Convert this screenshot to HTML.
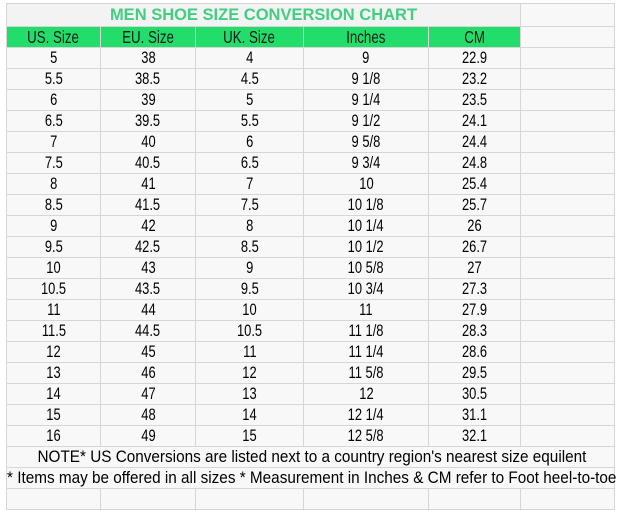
<!DOCTYPE html>
<html><head><style>
body{margin:0;width:619px;height:495px;background:#fff;overflow:hidden;font-family:"Liberation Sans",sans-serif;}
table{position:absolute;left:6px;top:3px;border-collapse:collapse;table-layout:fixed;width:608px;background:#f8f8f8;}
td{border:1px solid #d6d6d6;height:20px;padding:0;text-align:center;font-size:17px;color:#000;line-height:20px;white-space:nowrap;overflow:visible;}
td span{display:inline-block;transform:scaleX(0.76);transform-origin:center;}
tr.t td{height:22px;}
.title{color:#40cf80;font-weight:bold;font-size:16.5px;background:#f3f3f3;}
.title span{transform:none;}
tr.h td.g{background:#22dd6a;color:#1a1a1a;font-size:17.5px;}
.nt span{transform:scaleX(0.9);}
.l{text-align:left;}
.l span{transform-origin:left;transform:scaleX(0.9);}
</style></head><body>
<table>
<colgroup><col style="width:94px"><col style="width:95px"><col style="width:108px"><col style="width:125px"><col style="width:92px"><col style="width:94px"></colgroup>
<tr class="t"><td colspan="5" class="title"><span>MEN SHOE SIZE CONVERSION CHART</span></td><td></td></tr>
<tr class="h"><td class="g"><span>US. Size</span></td><td class="g"><span>EU. Size</span></td><td class="g"><span>UK. Size</span></td><td class="g"><span>Inches</span></td><td class="g"><span>CM</span></td><td></td></tr>
<tr><td><span>5</span></td><td><span>38</span></td><td><span>4</span></td><td><span>9</span></td><td><span>22.9</span></td><td></td></tr>
<tr><td><span>5.5</span></td><td><span>38.5</span></td><td><span>4.5</span></td><td><span>9 1/8</span></td><td><span>23.2</span></td><td></td></tr>
<tr><td><span>6</span></td><td><span>39</span></td><td><span>5</span></td><td><span>9 1/4</span></td><td><span>23.5</span></td><td></td></tr>
<tr><td><span>6.5</span></td><td><span>39.5</span></td><td><span>5.5</span></td><td><span>9 1/2</span></td><td><span>24.1</span></td><td></td></tr>
<tr><td><span>7</span></td><td><span>40</span></td><td><span>6</span></td><td><span>9 5/8</span></td><td><span>24.4</span></td><td></td></tr>
<tr><td><span>7.5</span></td><td><span>40.5</span></td><td><span>6.5</span></td><td><span>9 3/4</span></td><td><span>24.8</span></td><td></td></tr>
<tr><td><span>8</span></td><td><span>41</span></td><td><span>7</span></td><td><span>10</span></td><td><span>25.4</span></td><td></td></tr>
<tr><td><span>8.5</span></td><td><span>41.5</span></td><td><span>7.5</span></td><td><span>10 1/8</span></td><td><span>25.7</span></td><td></td></tr>
<tr><td><span>9</span></td><td><span>42</span></td><td><span>8</span></td><td><span>10 1/4</span></td><td><span>26</span></td><td></td></tr>
<tr><td><span>9.5</span></td><td><span>42.5</span></td><td><span>8.5</span></td><td><span>10 1/2</span></td><td><span>26.7</span></td><td></td></tr>
<tr><td><span>10</span></td><td><span>43</span></td><td><span>9</span></td><td><span>10 5/8</span></td><td><span>27</span></td><td></td></tr>
<tr><td><span>10.5</span></td><td><span>43.5</span></td><td><span>9.5</span></td><td><span>10 3/4</span></td><td><span>27.3</span></td><td></td></tr>
<tr><td><span>11</span></td><td><span>44</span></td><td><span>10</span></td><td><span>11</span></td><td><span>27.9</span></td><td></td></tr>
<tr><td><span>11.5</span></td><td><span>44.5</span></td><td><span>10.5</span></td><td><span>11 1/8</span></td><td><span>28.3</span></td><td></td></tr>
<tr><td><span>12</span></td><td><span>45</span></td><td><span>11</span></td><td><span>11 1/4</span></td><td><span>28.6</span></td><td></td></tr>
<tr><td><span>13</span></td><td><span>46</span></td><td><span>12</span></td><td><span>11 5/8</span></td><td><span>29.5</span></td><td></td></tr>
<tr><td><span>14</span></td><td><span>47</span></td><td><span>13</span></td><td><span>12</span></td><td><span>30.5</span></td><td></td></tr>
<tr><td><span>15</span></td><td><span>48</span></td><td><span>14</span></td><td><span>12 1/4</span></td><td><span>31.1</span></td><td></td></tr>
<tr><td><span>16</span></td><td><span>49</span></td><td><span>15</span></td><td><span>12 5/8</span></td><td><span>32.1</span></td><td></td></tr>
<tr><td colspan="6" class="nt"><span>NOTE* US Conversions are listed next to a country region's nearest size equilent</span></td></tr>
<tr><td colspan="6" class="l"><span>* Items may be offered in all sizes * Measurement in Inches &amp; CM refer to Foot heel-to-toe</span></td></tr>
<tr><td></td><td></td><td></td><td></td><td></td><td></td></tr>
</table>
</body></html>
